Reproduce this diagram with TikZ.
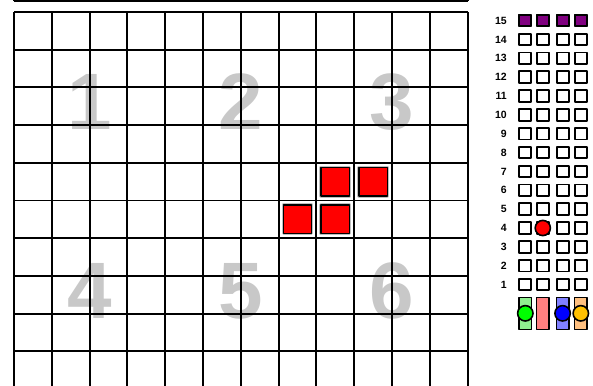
\documentclass[tikz,border=0pt]{standalone}
\usepackage{fontspec}
\setmainfont{Liberation Sans}
\usepackage{xcolor}
\definecolor{zonegray}{RGB}{200,200,200}
\definecolor{halo}{RGB}{190,190,190}
\definecolor{capfill}{RGB}{128,0,128}
\definecolor{lanegreen}{RGB}{144,240,144}
\definecolor{lanered}{RGB}{255,128,128}
\definecolor{laneblue}{RGB}{128,128,255}
\definecolor{laneorange}{RGB}{255,192,128}
\definecolor{gold}{RGB}{255,192,0}

\begin{document}
\begin{tikzpicture}[x=1pt,y=1pt,line join=round,
  gridline/.style={line width=1.9pt},
  slot/.style={draw,line width=1.9pt,fill=white},
  zone/.style={text=zonegray,inner sep=0pt,font=\bfseries\fontsize{80}{80}\selectfont},
  rowlabel/.style={anchor=east,inner sep=0pt,font=\bfseries\fontsize{10.5}{10.5}\selectfont},
  lane/.style={draw,line width=1.5pt},
  token/.style={draw,line width=1.6pt}]
\useasboundingbox (0,0) rectangle (593,385);
\node[zone] (zone1) at (90,283) {1};
\node[zone] (zone2) at (240.8,283) {2};
\node[zone] (zone3) at (392,283) {3};
\node[zone] (zone4) at (90,94) {4};
\node[zone] (zone5) at (240.8,94) {5};
\node[zone] (zone6) at (392,94) {6};
\begin{scope}[shift={(14,-4)},x=37.8pt,y=37.7pt]
\draw[gridline] (0,0) grid[step=1] (12,10);
\draw[gridline] (0,10.29) grid[step=1] (12,10.6);
\draw[gridline] (0,10.29) -- (12,10.29);
\foreach \c/\r in {8/5,9/5,7/4,8/4}{
  \draw[halo,line width=3.6pt] (\c+0.125,\r+0.125) rectangle ++(0.75,0.75);
  \draw[fill=red,line width=1.5pt] (\c+0.125,\r+0.125) rectangle ++(0.75,0.75);
}
\end{scope}
\foreach \k in {1,...,15}{
  \pgfmathsetmacro\yc{100.4+(\k-1)*18.86}
  \node[rowlabel] (row\k) at (507,\yc) {\k};
  \foreach \xc in {525.3,542.8,562.6,580.8}
    \draw[slot] (\xc-6.05,\yc-5.75) rectangle (\xc+6.05,\yc+5.75);
}
\foreach \xc in {525.3,542.8,562.6,580.8}
  \draw[slot,fill=capfill] (\xc-6.05,364.4-5.75) rectangle (\xc+6.05,364.4+5.75);
\draw[token,fill=red] (542.8,157) circle (7.6);
\foreach \xc/\col in {525.3/lanegreen,542.8/lanered,562.6/laneblue,580.8/laneorange}
  \draw[lane,fill=\col] (\xc-6.3,55.7) rectangle (\xc+6.3,87.3);
\draw[token,fill=green] (525.3,71.7) circle (7.7);
\draw[token,fill=blue] (562.6,71.7) circle (7.7);
\draw[token,fill=gold] (580.8,71.7) circle (7.7);
\end{tikzpicture}
\end{document}
